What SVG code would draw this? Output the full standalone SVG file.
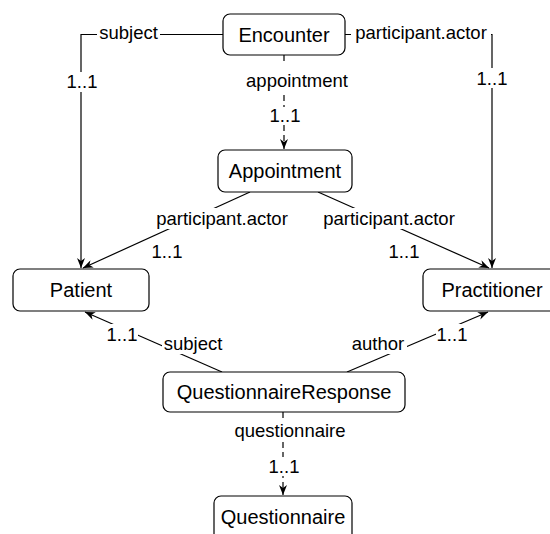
<svg xmlns="http://www.w3.org/2000/svg" width="550" height="534" viewBox="0 0 550 534">
  <style>
    .node rect { fill: #ffffff; stroke: #000000; stroke-width: 1.2; }
    .node text { font-family: "Liberation Sans", Arial, Helvetica, sans-serif; font-size: 20px; fill: #000000; text-anchor: middle; }
    .edge { fill: none; stroke: #000000; stroke-width: 1.2; }
    .dashed { stroke-dasharray: 6 4; }
    .lbl { font-family: "Liberation Sans", Arial, Helvetica, sans-serif; font-size: 18.5px; fill: #000000; text-anchor: middle; }
    .bg { fill: #ffffff; stroke: none; }
  </style>
  <defs>
    <marker id="arrow" viewBox="0 0 10 8" markerWidth="10" markerHeight="8" refX="10" refY="4" orient="auto" markerUnits="userSpaceOnUse">
      <path d="M0,0 L10,4 L0,8 L3,4 Z" fill="#000000"/>
    </marker>
  </defs>

  <rect width="550" height="534" fill="#ffffff"/>

  <!-- connectors and their labels -->
  <g id="connectors">
    <!-- Encounter.subject -> Patient -->
    <path class="edge" d="M223,34.5 H81 V268" marker-end="url(#arrow)"/>
    <!-- Encounter.participant.actor -> Practitioner -->
    <path class="edge" d="M345,34.5 H492 V268" marker-end="url(#arrow)"/>
    <!-- Encounter.appointment -> Appointment -->
    <path class="edge dashed" d="M284,55 V149" marker-end="url(#arrow)"/>
    <!-- Appointment.participant.actor -> Patient -->
    <path class="edge" d="M250,192 L83,268" marker-end="url(#arrow)"/>
    <!-- Appointment.participant.actor -> Practitioner -->
    <path class="edge" d="M318,192 L489,268" marker-end="url(#arrow)"/>
    <!-- QuestionnaireResponse.subject -> Patient -->
    <path class="edge" d="M222,372 L85,312" marker-end="url(#arrow)"/>
    <!-- QuestionnaireResponse.author -> Practitioner -->
    <path class="edge" d="M347,372 L488,312" marker-end="url(#arrow)"/>
    <!-- QuestionnaireResponse.questionnaire -> Questionnaire -->
    <path class="edge dashed" d="M283,412 V495" marker-end="url(#arrow)"/>

    <!-- label backgrounds -->
    <rect class="bg" x="97" y="24" width="63" height="19"/>
    <rect class="bg" x="351" y="24" width="140" height="19"/>
    <rect class="bg" x="66" y="72" width="32" height="20"/>
    <rect class="bg" x="476" y="68" width="32" height="20"/>
    <rect class="bg" x="243" y="64" width="108" height="29"/>
    <rect class="bg" x="268" y="107" width="33" height="18"/>
    <rect class="bg" x="152" y="208" width="140" height="21"/>
    <rect class="bg" x="318" y="208" width="142" height="21"/>
    <rect class="bg" x="151" y="243" width="33" height="18"/>
    <rect class="bg" x="388" y="243" width="33" height="18"/>
    <rect class="bg" x="106" y="324" width="32" height="20"/>
    <rect class="bg" x="162" y="334" width="63" height="20"/>
    <rect class="bg" x="350" y="334" width="57" height="20"/>
    <rect class="bg" x="436" y="324" width="32" height="20"/>
    <rect class="bg" x="235" y="422" width="110" height="20"/>
    <rect class="bg" x="267" y="457" width="33" height="19"/>

    <!-- label texts -->
    <text class="lbl" x="128.5" y="39">subject</text>
    <text class="lbl" x="421" y="39">participant.actor</text>
    <text class="lbl" x="82" y="88">1..1</text>
    <text class="lbl" x="492" y="85">1..1</text>
    <text class="lbl" x="297" y="87">appointment</text>
    <text class="lbl" x="285" y="122">1..1</text>
    <text class="lbl" x="222" y="225">participant.actor</text>
    <text class="lbl" x="389" y="225">participant.actor</text>
    <text class="lbl" x="167" y="258">1..1</text>
    <text class="lbl" x="404" y="258">1..1</text>
    <text class="lbl" x="122" y="341">1..1</text>
    <text class="lbl" x="193" y="350">subject</text>
    <text class="lbl" x="378" y="350">author</text>
    <text class="lbl" x="452" y="341">1..1</text>
    <text class="lbl" x="290" y="437">questionnaire</text>
    <text class="lbl" x="284" y="473">1..1</text>
  </g>

  <!-- resource nodes -->
  <g id="encounter" class="node">
    <rect x="223" y="14" width="122" height="41" rx="7"/>
    <text x="284" y="42">Encounter</text>
  </g>
  <g id="appointment" class="node">
    <rect x="218" y="150" width="134" height="42" rx="7"/>
    <text x="285" y="178">Appointment</text>
  </g>
  <g id="patient" class="node">
    <rect x="13" y="269" width="136" height="42" rx="7"/>
    <text x="81" y="297">Patient</text>
  </g>
  <g id="practitioner" class="node">
    <rect x="423" y="269" width="138" height="42" rx="7"/>
    <text x="492" y="297">Practitioner</text>
  </g>
  <g id="questionnaire-response" class="node">
    <rect x="163" y="372" width="242" height="40" rx="7"/>
    <text x="284" y="399">QuestionnaireResponse</text>
  </g>
  <g id="questionnaire" class="node">
    <rect x="214" y="496" width="138" height="50" rx="7"/>
    <text x="283" y="524">Questionnaire</text>
  </g>
</svg>
